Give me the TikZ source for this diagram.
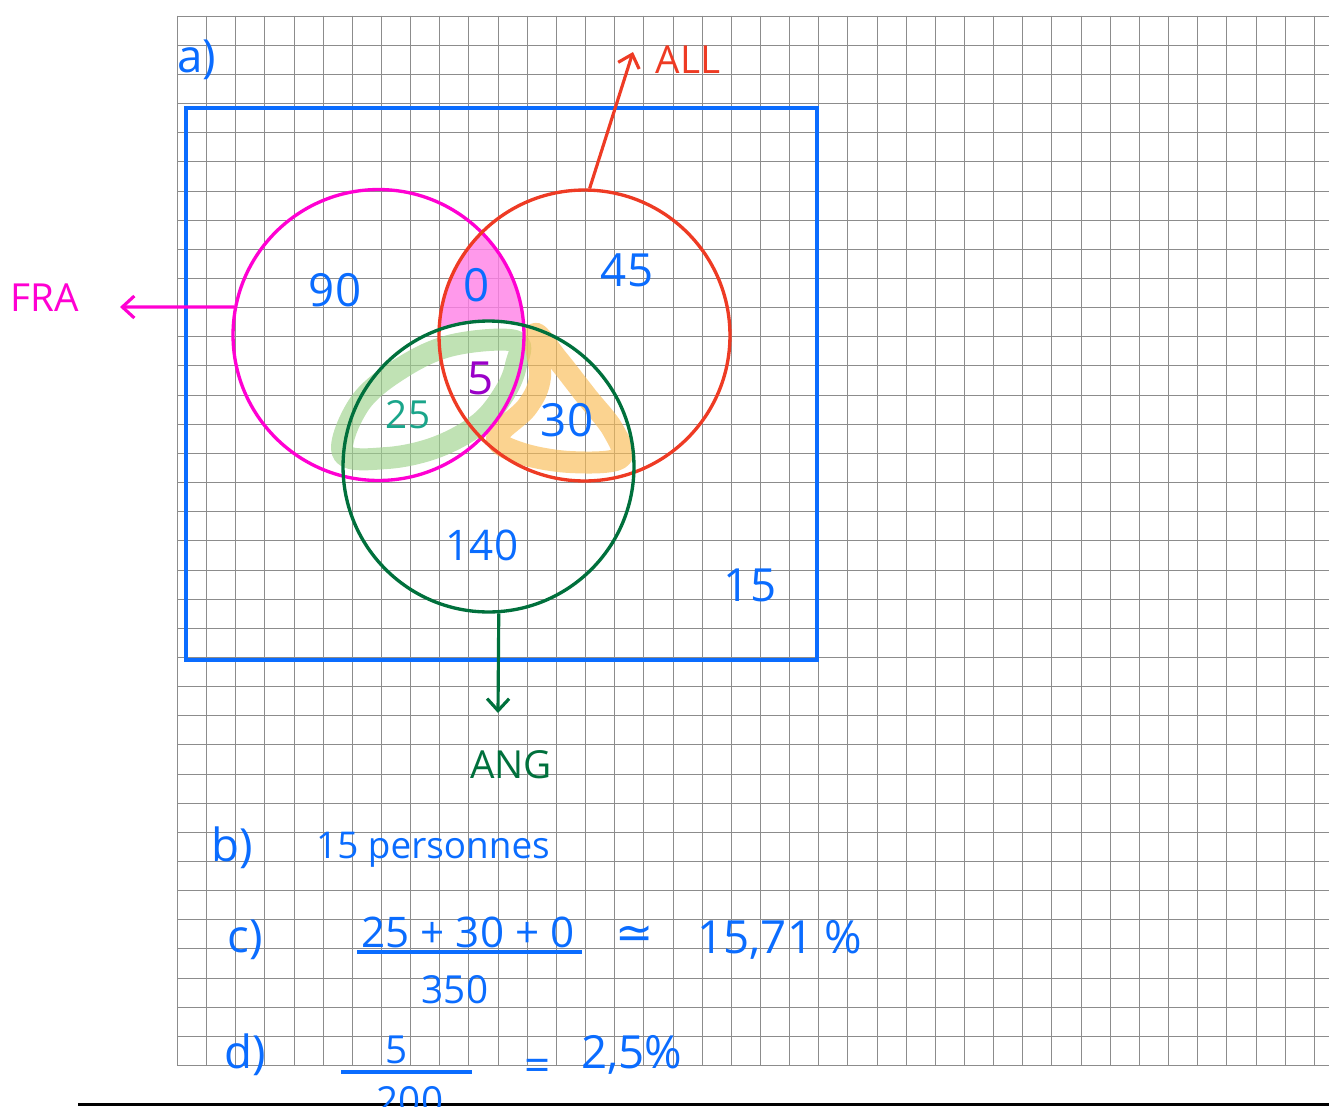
\documentclass[tikz,border=0pt]{standalone}
\usepackage{fontspec}
\setmainfont{Open Sans}
\newfontfamily\symbfont{DejaVu Sans}
\usetikzlibrary{arrows.meta,positioning}
\definecolor{penblue}{HTML}{0A6CFF}
\definecolor{penmagenta}{HTML}{FF00D2}
\definecolor{penred}{HTML}{EE3B24}
\definecolor{pengreen}{HTML}{00703C}
\definecolor{penteal}{HTML}{1AA58A}
\definecolor{penpurple}{HTML}{9A00C8}
\definecolor{lenspink}{HTML}{FF7FE6}
\definecolor{markgreen}{HTML}{9ED28C}
\definecolor{markorange}{HTML}{F9BC55}

\begin{document}
\begin{tikzpicture}
  [
    x=0.02cm, y=-0.02cm,
    gridline/.style={draw=black!45, line width=0.85pt},
    set/.style={circle, draw, line width=1.9pt, minimum size=5.82cm, inner sep=0pt},
    FR/.style={draw=penmagenta},
    AL/.style={draw=penred},
    AN/.style={draw=pengreen},
    pointer/.style={line width=1.8pt, -{Straight Barb[length=2.4mm,width=4.4mm,line width=1.8pt]}},
    hand/.style={text=penblue, font=\fontsize{26}{28}\selectfont, inner sep=1pt},
    small/.style={font=\fontsize{22}{24}\selectfont},
    marker/.style={line width=0.44cm, line cap=round, line join=round, opacity=0.65},
    bar/.style={draw=penblue, line width=2.2pt},
  ]
  \clip (0,0) rectangle (1329,1106);
  % squared paper
  \foreach \i in {0,...,39}{
    \pgfmathsetmacro{\gx}{round(177+29.15*\i)+0.5}
    \draw[gridline] (\gx,15.5) -- (\gx,1065.5);
  }
  \foreach \j in {0,...,36}{
    \pgfmathsetmacro{\gy}{round(15.7+29.15*\j)+0.5}
    \draw[gridline] (177,\gy) -- (1329,\gy);
  }
  \draw[line width=1.2pt] (78,1104.5) -- (1329,1104.5);

  \coordinate (cfra) at (378.5,335);
  \coordinate (call) at (584.5,335.5);
  \coordinate (cang) at (488.5,466.5);

  \begin{scope}
    \clip (cfra) circle (145.5);
    \clip (call) circle (145.5);
    \fill[lenspink, opacity=0.8, even odd rule] (150,150) rectangle (700,500) (cang) circle (145.5);
  \end{scope}
  \draw[marker, markgreen] plot[smooth cycle, tension=0.6] coordinates
    {(343,453) (360,403) (403,367) (453,345) (515,341) (516,365) (505,392) (480,423) (437,447) (387,458)};
  \draw[marker, markorange] plot[smooth cycle, tension=0.6] coordinates
    {(535,334) (540,377) (527,407) (497,437) (520,453) (570,462) (620,458) (613,430) (587,397) (558,360)};

  \draw[penblue, line width=2.3pt] (186,108) rectangle (817,660);

  \node[set, FR] (fra) at (cfra) {};
  \node[set, AL] (all) at (call) {};
  \node[set, AN] (ang) at (cang) {};

  \node[hand, small, text=penmagenta] (fralbl) at (45,298) {FRA};
  \node[hand, small, text=penred] (alllbl) at (688,60) {ALL};
  \node[hand, small, text=pengreen] (anglbl) at (511,765) {ANG};
  \coordinate (fraend) at (120,307);
  \coordinate (allend) at (633,52);
  \coordinate (angend) at (498,713);
  \draw[pointer, penmagenta] (fra.169) -- (fraend);
  \draw[pointer, penred] (all.88) -- (allend);
  \draw[pointer, pengreen] (ang.274) -- (angend);

  \node[hand] (parta) at (197,60) {a)};
  \node[hand] (nfra) at (335,290) {90};
  \node[hand] (nfraall) at (477,285) {0};
  \node[hand] (nall) at (627,270) {45};
  \node[hand, text=penpurple] (nmid) at (481,378) {5};
  \node[hand, small, text=penteal] (nfraang) at (408,415) {25};
  \node[hand] (nallang) at (567,420) {30};
  \node[hand, font=\fontsize{24}{26}\selectfont] (nang) at (482,545) {140};
  \node[hand] (nout) at (750,585) {15};

  \node[hand] (partb) at (232,848) {b)};
  \node[hand, font=\fontsize{21}{24}\selectfont] (ansb) at (433,850) {15 personnes};

  \node[hand] (partc) at (245,940) {c)};
  \node[hand, font=\fontsize{24}{26}\selectfont] (numc) at (468,932) {25 + 30 + 0};
  \draw[bar] (357,952) -- (582,952);
  \node[hand, small] (denc) at (455,990) {350};
  \node[hand, font=\symbfont\fontsize{26}{28}\selectfont] (approx) at (635,937) {≃};
  \node[hand] (ansc) at (780,940) {15,71 \%};

  \node[hand] (partd) at (245,1055) {d)};
  \node[hand, small] (numd) at (397,1050) {5};
  \draw[bar] (341,1072) -- (472,1072);
  \node[hand, small] (dend) at (410,1101) {200};
  \node[hand] (eqd) at (538,1070) {=};
  \node[hand] (ansd) at (632,1055) {2,5\%};
\end{tikzpicture}
\end{document}
